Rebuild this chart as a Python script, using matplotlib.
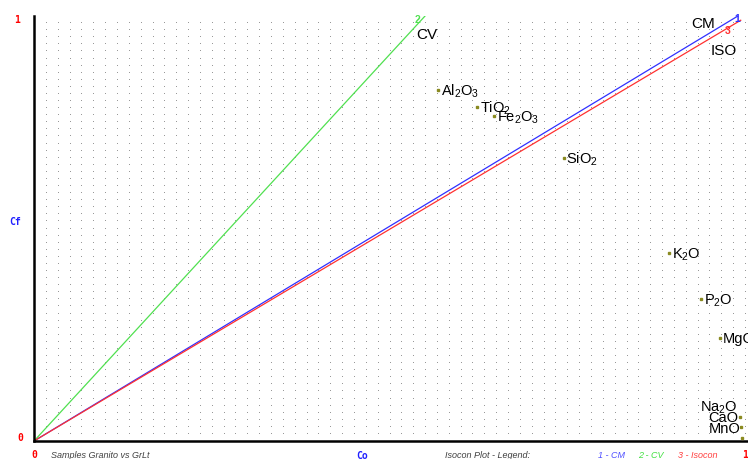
import numpy as np
import matplotlib
matplotlib.use("Agg")
import matplotlib.pyplot as plt

plt.rcParams['font.family'] = ['Liberation Sans', 'DejaVu Sans']
plt.rcParams['mathtext.fontset'] = 'custom'
plt.rcParams['mathtext.rm'] = 'Liberation Sans'
plt.rcParams['mathtext.it'] = 'Liberation Sans:italic'

# oxide data (Co, Cf)
oxides = [r'Al$_2$O$_3$', r'TiO$_2$', r'Fe$_2$O$_3$', r'SiO$_2$', r'K$_2$O',
          r'P$_2$O', 'MgO', r'Na$_2$O', 'CaO', 'MnO']
co = [0.568, 0.623, 0.647, 0.745, 0.893, 0.938, 0.965, 0.993, 0.994, 0.996]
cf = [0.825, 0.785, 0.764, 0.667, 0.442, 0.333, 0.243, 0.057, 0.033, 0.007]
left_label = [False] * 7 + [True] * 3

# reference lines: name, end point, colour, number
line_names = ['CM', 'CV', 'ISO']
line_end_x = [0.990, 0.550, 0.994]
line_end_y = [1.000, 1.000, 0.990]
line_colors = ['#3030ff', '#50e050', '#ff3030']
line_nums = ['1', '2', '3']

fig = plt.figure(figsize=(7.48, 4.59), dpi=100)
ax = fig.add_axes([34 / 748, 18 / 459, 714 / 748, 425 / 459])
ax.set_xlim(0, 714 / 711)
ax.set_ylim(0, 1)

# dot lattice
gx, gy = np.meshgrid(np.arange(1, 61) / 60, np.arange(1, 61) / 60)
ax.plot(gx.ravel(), gy.ravel(), ',', color='#999999', zorder=0)

for ex, ey, c in zip(line_end_x, line_end_y, line_colors):
    ax.plot([0, ex], [0, ey], color=c, lw=0.9, zorder=2)

# line captions
ax.text(0.958, 0.981, 'CM', ha='right', va='center', fontsize=11)
ax.text(0.952, 0.918, 'ISO', ha='left', va='center', fontsize=11)
ax.text(0.537, 0.955, 'CV', ha='left', va='center', fontsize=11)
num = dict(fontsize=7.5, ha='center', va='center', fontweight='bold')
ax.text(0.989, 0.993, line_nums[0], color=line_colors[0], **num)
ax.text(0.540, 0.990, line_nums[1], color=line_colors[1], **num)
ax.text(0.976, 0.965, line_nums[2], color=line_colors[2], **num)

ax.plot(co, cf, 's', color='#8a8a20', ms=1.8, lw=0, zorder=3)
for name, x, y, lft in zip(oxides, co, cf, left_label):
    if lft:
        ax.annotate(name, (x, y), xytext=(-1.5, 6.5), textcoords='offset points',
                    ha='right', va='center', fontsize=10.5, clip_on=False)
    else:
        ax.annotate(name, (x, y), xytext=(2, -1), textcoords='offset points',
                    ha='left', va='center', fontsize=10.5)

for s in ['top', 'right']:
    ax.spines[s].set_visible(False)
for s in ['left', 'bottom']:
    ax.spines[s].set_linewidth(1.8)
ax.set_xticks([])
ax.set_yticks([])

mono = dict(family='DejaVu Sans Mono', fontweight='bold', fontsize=7)
fig.text(17 / 748, 1 - 20 / 459, '1', color='red', ha='center', va='center', **mono)
fig.text(20 / 748, 1 - 438 / 459, '0', color='red', ha='center', va='center', **mono)
fig.text(34 / 748, 1 - 455 / 459, '0', color='red', ha='center', va='center', **mono)
fig.text(745 / 748, 1 - 455 / 459, '1', color='red', ha='center', va='center', **mono)
fig.text(15 / 748, 1 - 222 / 459, 'Cf', color='#2020ff', ha='center', va='center', **mono)
fig.text(362 / 748, 1 - 456 / 459, 'Co', color='#2020ff', ha='center', va='center', **mono)

it = dict(fontsize=6.5, style='italic', va='center')
fig.text(51 / 748, 1 - 456 / 459, 'Samples Granito vs GrLt', color='#404040', **it)
fig.text(445 / 748, 1 - 456 / 459, 'Isocon Plot - Legend:', color='#404040', **it)
fig.text(598 / 748, 1 - 456 / 459, '1 - CM', color='#5050ff', **it)
fig.text(638 / 748, 1 - 456 / 459, '2 - CV', color='#40e040', **it)
fig.text(678 / 748, 1 - 456 / 459, '3 - Isocon', color='#ff4040', **it)

fig.savefig('out.png', dpi=100)
